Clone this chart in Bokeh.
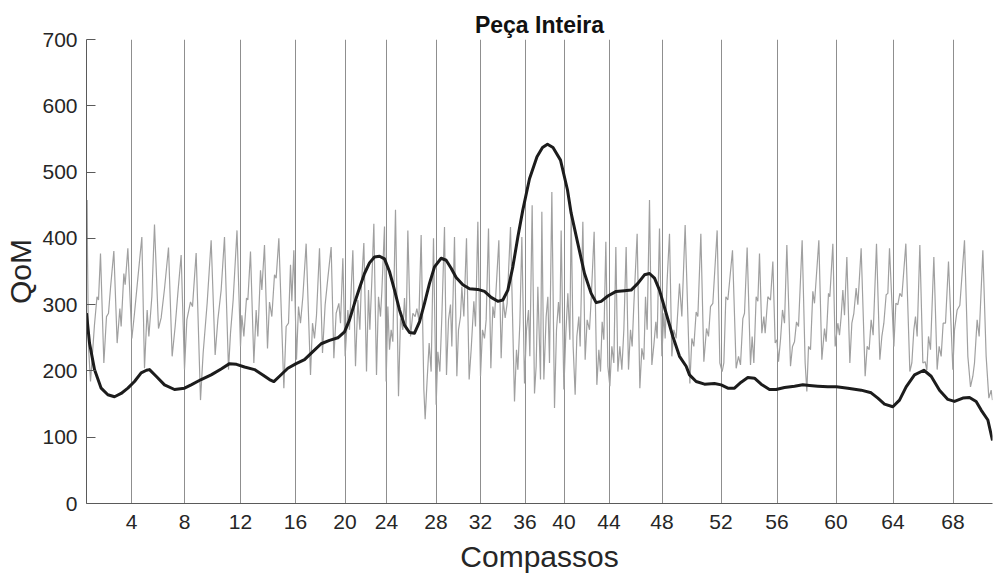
from bokeh.plotting import figure
from bokeh.models import Range1d, FixedTicker, CustomJSTickFormatter
from bokeh.embed import file_html
from bokeh.resources import INLINE

# Measure (compasso) start times in seconds, and their labels
measure_times = [9.0, 19.6, 30.8, 41.8, 51.7, 60.0, 69.9, 78.8, 87.7, 95.5,
                 104.5, 115.1, 126.9, 138.1, 149.9, 161.3, 173.3]
measure_labels = ["4", "8", "12", "16", "20", "24", "28", "32", "36", "40",
                  "44", "48", "52", "56", "60", "64", "68"]
y_ticks = [0, 100, 200, 300, 400, 500, 600, 700]

# Raw QoM (grey)
raw_t = [0.0, 0.13, 0.2, 0.4, 0.8, 1.6, 2.1, 2.4, 2.8, 3.47, 4.0, 4.4, 4.8, 5.47, 6.13, 6.67, 6.93, 7.47, 7.73, 8.27,
         9.07, 9.6, 10.27, 11.07, 11.6, 12.13, 12.47, 13.07, 13.6, 14.4, 14.93, 15.6, 16.4, 17.13, 17.73, 18.27, 18.93,
         19.6, 20.07, 20.8, 21.2, 21.93, 22.8, 23.33, 24.13, 24.93, 25.73, 26.27, 26.93, 27.6, 28.4, 28.8, 29.33,
         30.1, 30.8, 31.07, 31.47, 32.0, 32.27, 32.8, 33.47, 33.93, 34.27, 34.8, 35.07, 35.6, 36.2, 36.6, 37.07, 37.6,
         37.93, 38.47, 39.47, 39.93, 40.4, 40.8, 41.07, 41.47, 42.0, 42.4, 42.8, 43.27, 43.93, 44.8, 45.2, 45.6, 46.0,
         46.6, 47.2, 47.73, 48.27, 48.93, 49.47, 49.93, 50.47, 50.8, 51.27, 51.73, 52.27, 52.6, 53.27, 53.8, 54.27,
         54.67, 54.93, 55.47, 56.0, 56.4, 56.67, 57.07, 57.47, 58.0, 58.4, 58.8, 59.07, 59.6,
         59.93, 60.27, 60.6, 60.93, 61.27, 61.8, 62.4, 62.8, 63.27, 63.6, 63.93, 64.27, 64.8, 65.27, 65.73, 66.07,
         66.47, 66.93, 67.47, 67.73, 68.13, 68.53, 68.93, 69.4, 69.93, 70.27, 70.67, 71.07, 71.6, 72.0, 72.4, 72.8,
         73.07, 73.6, 74.07, 74.4, 74.8, 75.07, 75.47, 76.0, 76.53, 76.93, 77.47, 77.8, 78.27, 78.8, 79.2, 79.6,
         79.93, 80.4, 80.87, 81.27, 81.6, 82.47, 82.93, 83.33, 83.73, 84.13, 84.8, 85.6, 86.0, 86.27, 86.67, 87.07,
         87.6, 88.0, 88.4, 88.67, 89.13, 89.6, 89.93,
         90.27, 90.8, 91.07, 91.47, 91.93, 92.27, 92.6, 93.07, 93.6, 94.0, 94.4, 94.67, 94.93, 95.47, 95.87, 96.27,
         96.67, 96.93, 97.33, 97.73, 98.07, 98.47, 98.73, 99.27, 99.73, 100.13, 100.6, 100.93, 101.53, 102.07,
         102.47, 102.8, 103.13, 103.47, 103.87, 104.27, 104.67, 105.07, 105.47, 105.87, 106.27, 106.67, 107.07,
         107.47, 107.93, 108.4, 108.8, 109.13, 109.47, 110.13, 110.67, 111.07, 111.47, 111.8, 112.13, 112.6,
         113.07, 113.47, 113.87, 114.13, 114.6, 115.07, 115.47, 115.73, 116.13, 116.6, 117.07, 117.47, 117.93,
         118.6, 119.07, 119.73,
         120.67, 121.07, 121.47, 121.93, 122.27, 122.87, 123.47, 124.0, 124.4, 124.8, 125.27, 126.13, 126.67,
         127.13, 127.47, 127.87, 128.27, 129.2, 129.93, 130.4, 130.8, 131.27, 131.6, 132.13, 132.8, 133.13, 133.47,
         133.93, 134.27, 134.6, 135.07, 135.47, 135.73, 136.27, 136.8, 137.27, 137.73, 138.07, 138.4, 138.8, 139.2,
         139.6, 140.07, 140.8, 141.2, 141.6, 142.0, 142.4, 143.13, 143.73, 144.07, 144.4, 144.8, 145.27, 145.6,
         146.47, 147.07, 147.6, 147.93, 148.4, 148.67, 149.27, 149.73,
         150.27, 150.6, 150.93, 151.27, 151.6, 152.07, 152.67, 153.07, 153.47, 153.93, 154.27, 154.93, 155.73,
         156.13, 156.53, 156.93, 157.33, 158.0, 158.67, 159.07, 159.47, 159.93, 160.27, 160.6, 161.47, 161.87,
         162.27, 162.67, 163.07, 163.87, 164.67, 165.07, 165.47, 165.8, 166.13, 166.67, 167.27, 167.73, 168.07,
         168.4, 168.8, 169.47, 170.13, 170.53, 170.93, 171.33, 171.8, 172.4, 173.27, 173.6, 174.13, 174.67, 175.6,
         176.27, 176.8, 177.27, 177.6, 178.13, 178.53, 179.27, 179.93, 180.47, 180.93, 181.2]
raw_qom = [375, 458, 375, 237, 184, 270, 312, 307, 377, 212, 282, 287, 325, 381, 242, 294, 267, 347, 330, 385,
           249, 287, 340, 402, 204, 292, 252, 312, 421, 264, 280, 324, 386, 222, 267, 317, 375,
           202, 277, 304, 297, 378, 156, 227, 302, 397, 224, 277, 322, 402, 202, 257, 307,
           412, 237, 284, 252, 310, 307, 380, 212, 292, 252, 352, 322, 390, 234, 304, 282, 345,
           340, 400, 174, 267, 272, 360, 305, 382, 217, 297, 272, 312, 392, 194, 272, 249, 284,
           385, 227, 300, 340, 387, 219, 287, 302, 272, 370, 222, 292, 262, 382, 207, 307,
           262, 322, 393, 199, 322, 262, 337, 422, 194, 312, 282, 320, 418,
           184, 297, 232, 262, 244, 443, 162, 279, 262, 310, 262, 412, 252, 287, 282, 294,
           277, 405, 172, 127, 187, 242, 199, 400, 149, 229, 199, 282, 417, 194, 277, 300,
           237, 402, 192, 262, 282, 327, 282, 400, 187, 232, 305, 267, 425, 192, 262, 249,
           277, 415, 204, 297, 280, 397, 219, 307, 280, 302, 417, 154, 232, 202, 272, 402,
           181, 262, 292, 222, 450, 166, 207,
           327, 187, 440, 187, 282, 312, 212, 470, 144, 262, 304, 272, 412, 172, 257, 317,
           247, 438, 237, 164, 252, 282, 237, 425, 217, 277, 262, 307, 410, 179,
           232, 199, 274, 247, 395, 207, 177, 237, 212, 387, 199, 237, 202,
           262, 387, 202, 262, 237, 300, 407, 174, 234, 217, 312, 262, 458,
           209, 239, 274, 249, 415, 222, 287, 249, 337, 407, 222, 262, 249,
           332, 282, 420,
           181, 249, 237, 289, 282, 407, 214, 264, 252, 297, 302, 412, 212,
           199, 212, 312, 307, 382, 204, 222, 209, 279, 287, 386, 209, 252, 212,
           312, 305, 377, 257, 282, 257, 312, 307, 365, 242, 247, 214, 247, 292,
           272, 390, 207, 237, 244, 274, 267, 397, 212, 169, 237, 232, 320, 302,
           397, 217, 264, 244, 317, 312, 392, 237,
           272, 254, 282, 322, 284, 372, 212, 272, 287, 325, 300, 385, 192,
           237, 232, 277, 254, 392, 217, 252, 272, 315, 317, 385, 237, 302,
           300, 317, 312, 392, 199, 212, 262, 282, 252, 390, 212, 214, 201,
           252, 232, 372, 202, 237, 222, 272, 272, 365, 202, 262, 292, 299, 397,
           222, 176, 192, 212, 277, 252, 382, 222, 159, 171, 156]

# Smoothed QoM (black)
smooth_t = [0.0, 0.6, 1.6, 2.93, 4.27, 5.6, 6.93, 8.27, 9.6, 10.93, 12.0, 12.6, 13.93, 15.6, 17.6, 19.6, 20.93,
            22.93, 24.93, 26.93, 28.6, 30.0, 31.6, 33.6, 35.27, 36.6, 37.47, 38.6, 40.27, 41.93, 43.6, 45.27,
            46.93, 48.6, 50.27, 51.6, 52.6, 53.6, 54.6, 55.6, 56.6, 57.6, 58.6, 59.6, 60.6, 61.6, 62.6, 63.6,
            64.6, 65.6, 66.6, 67.6, 68.6, 69.6, 70.93, 71.93, 72.93, 73.93, 75.27, 76.6, 78.27, 79.6, 80.93,
            82.27, 83.27, 84.27, 85.27, 86.27, 87.27, 88.6, 90.1, 91.2, 92.2, 93.3, 94.8, 96.2, 96.93, 98.27,
            99.6, 100.93, 101.93, 102.93, 104.27, 105.93, 107.6, 108.93, 110.27, 111.6, 112.6, 113.6, 114.6,
            115.93, 117.27, 118.6, 119.93, 120.6, 121.93, 123.6, 125.6, 126.93, 128.27, 129.6, 130.93, 132.27,
            133.6, 134.93, 136.6, 137.93, 139.6, 141.6, 143.27, 144.6, 146.27, 148.27, 150.0, 152.27, 154.93,
            156.93, 158.27, 159.6, 161.27, 162.6, 163.93, 165.6, 167.47, 168.93, 170.6, 172.27, 173.6, 175.27,
            176.6, 177.93, 178.93, 180.27, 181.2]
smooth_qom = [287, 242, 202, 174, 164, 161, 166, 174, 184, 197, 201, 202, 192, 179, 172, 174, 179,
              187, 194, 203, 211, 210, 206, 202, 194, 187, 184, 192, 204, 211, 217, 229,
              241, 246, 250, 259, 277, 302, 325, 347, 363, 372, 373, 369, 350, 322, 292, 269,
              258, 257, 274, 302, 332, 357, 370, 367, 355, 341, 330, 324, 323, 320, 311,
              305, 307, 322, 357, 402, 443, 490, 523, 537, 542, 537, 518, 473, 438, 392,
              347, 317, 303, 305, 313, 320, 321, 322, 332, 345, 347, 340, 322,
              287, 252, 222, 207, 194, 184, 180, 181, 179, 174, 174, 183, 190,
              189, 180, 172, 172, 175, 177, 179, 178, 177, 176, 176, 174, 171,
              167, 159, 150, 146, 156, 176, 194, 201, 192, 171, 157, 154, 159,
              160, 154, 141, 126, 95]

FONT = "Liberation Sans"

p = figure(width=993, height=575, output_backend="svg", toolbar_location=None,
           x_range=Range1d(0, 181.2), y_range=Range1d(0, 700),
           min_border_left=86, min_border_right=1, min_border_top=39, min_border_bottom=71,
           title="Peça Inteira")
p.background_fill_color = "white"
p.border_fill_color = "white"
p.outline_line_color = None

p.title.align = "center"
p.title.text_font = FONT
p.title.text_font_size = "23px"
p.title.text_font_style = "bold"
p.title.text_color = "#111111"
p.title.standoff = 4

# vertical measure lines
p.xgrid.ticker = FixedTicker(ticks=measure_times)
p.xgrid.grid_line_color = "#8f8f8f"
p.xgrid.grid_line_width = 1
p.ygrid.grid_line_color = None

p.line(raw_t, raw_qom, line_color="#a0a0a0", line_width=1.2)
p.line(smooth_t, smooth_qom, line_color="#1c1c1c", line_width=3, line_join="round")

xa = p.xaxis[0]
xa.ticker = FixedTicker(ticks=measure_times)
xa.formatter = CustomJSTickFormatter(
    args=dict(times=measure_times, labels=measure_labels),
    code="""
        let best = 0, bd = Infinity;
        for (let i = 0; i < times.length; i++) {
            const d = Math.abs(times[i] - tick);
            if (d < bd) { bd = d; best = i; }
        }
        return labels[best];
    """)
xa.axis_label = "Compassos"
ya = p.yaxis[0]
ya.ticker = FixedTicker(ticks=y_ticks)
ya.axis_label = "QoM"

for ax in (xa, ya):
    ax.axis_line_color = "#5a5a5a"
    ax.axis_line_width = 1
    ax.major_tick_line_color = "#5a5a5a"
    ax.major_tick_in = 9
    ax.major_tick_out = 0
    ax.minor_tick_line_color = None
    ax.major_label_text_font = FONT
    ax.major_label_text_font_size = "21px"
    ax.major_label_text_color = "#262626"
    ax.axis_label_text_font = FONT
    ax.axis_label_text_font_size = "30px"
    ax.axis_label_text_font_style = "normal"
    ax.axis_label_text_color = "#262626"

xa.major_tick_line_color = None
xa.major_label_standoff = 11
xa.axis_label_standoff = 8
ya.major_label_standoff = 9
ya.axis_label_standoff = 2

open("out.html", "w").write(file_html(p, INLINE))
